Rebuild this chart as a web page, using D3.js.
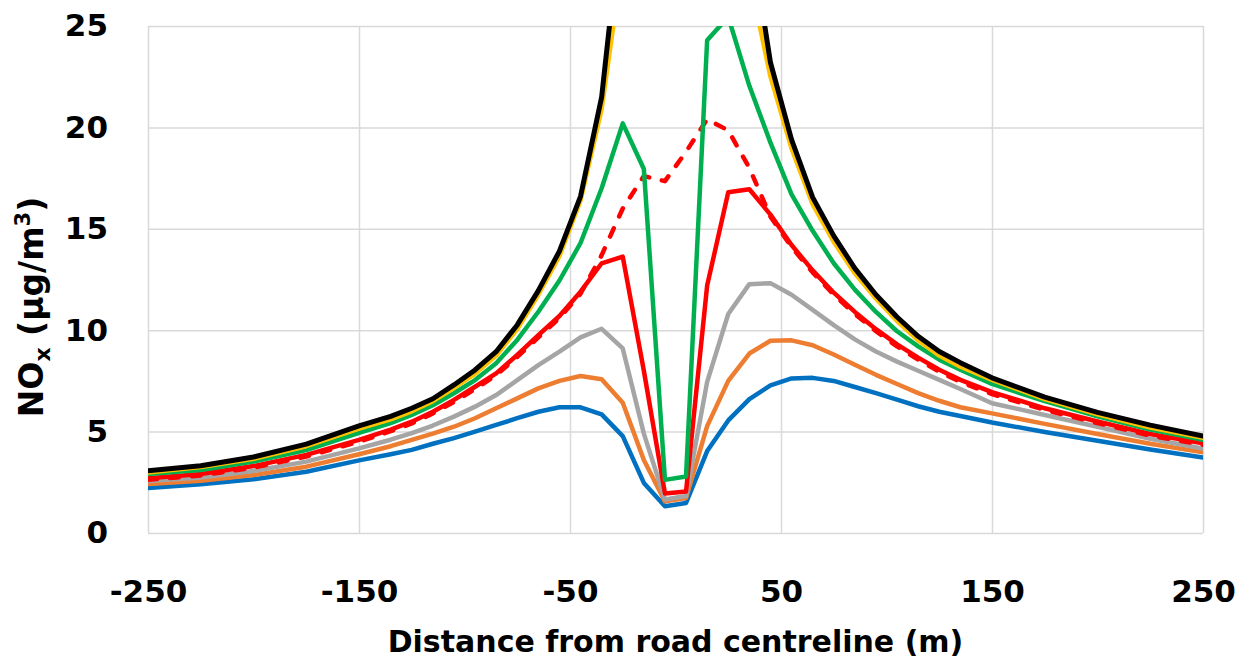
<!DOCTYPE html>
<html>
<head>
<meta charset="utf-8">
<script src="https://cdnjs.cloudflare.com/ajax/libs/d3/7.8.5/d3.min.js"></script>
<style>
body { margin: 0; background: #fff; }
text { font-family: "DejaVu Sans", sans-serif; font-weight: bold; fill: #000; }
</style>
</head>
<body>
<script>
// distance from road centreline (m)
let distance = [-250,-225,-200,-175,-150,-135,-125,-115,-105,-95,-85,-75,-65,-55,-45,-35,-25,-15,-5,
                5,15,25,35,45,55,65,75,85,95,105,115,125,135,150,175,200,225,250]

// NOx (ug/m3), one array per curve
let blue   = [2.22,2.40,2.65,3.02,3.58,3.88,4.10,4.40,4.68,5.00,5.33,5.66,5.98,6.20,6.20,5.85,4.78,2.47,1.32,
              1.48,4.04,5.55,6.60,7.28,7.62,7.65,7.50,7.20,6.90,6.58,6.25,5.98,5.77,5.45,4.98,4.55,4.12,3.72]
let orange = [2.42,2.58,2.86,3.27,3.88,4.28,4.59,4.90,5.24,5.66,6.15,6.64,7.13,7.50,7.74,7.58,6.42,3.60,1.56,
              1.73,5.27,7.50,8.85,9.48,9.50,9.26,8.80,8.30,7.80,7.35,6.90,6.52,6.20,5.90,5.38,4.88,4.40,3.98]
let gray   = [2.56,2.74,3.06,3.52,4.17,4.60,4.92,5.30,5.74,6.23,6.80,7.54,8.28,8.94,9.65,10.07,9.10,4.90,1.65,
              1.82,7.45,10.80,12.27,12.32,11.75,11.00,10.25,9.55,8.95,8.45,8.00,7.55,7.10,6.40,5.82,5.24,4.65,4.17]
let red    = [2.70,2.91,3.30,3.85,4.59,5.10,5.49,5.98,6.56,7.21,7.87,8.78,9.76,10.70,11.90,13.30,13.63,8.00,1.95,
              2.05,12.20,16.80,16.95,15.70,14.20,12.95,11.85,10.90,10.05,9.30,8.65,8.05,7.55,6.95,6.15,5.50,4.88,4.42]
let redDashed = [2.62,2.84,3.22,3.77,4.50,5.02,5.40,5.90,6.46,7.10,7.78,8.68,9.65,10.60,11.80,13.70,16.00,17.60,17.35,
              18.80,20.40,19.85,18.00,15.60,14.10,12.85,11.75,10.80,9.95,9.20,8.55,7.95,7.45,6.85,6.07,5.42,4.80,4.35]
let green  = [2.91,3.11,3.52,4.09,4.94,5.42,5.82,6.30,6.89,7.54,8.37,9.52,10.91,12.45,14.30,17.00,20.20,17.95,2.62,
              2.79,24.30,25.45,22.05,19.25,16.70,14.90,13.30,12.00,10.90,9.95,9.20,8.55,8.05,7.35,6.50,5.75,5.10,4.60]
let yellow = [2.98,3.25,3.66,4.28,5.15,5.60,6.00,6.50,7.15,7.85,8.75,10.05,11.75,13.65,16.40,20.90,28.30,38.00,48.00,
              48.00,38.00,31.00,27.40,22.50,18.95,16.20,14.35,12.80,11.55,10.45,9.50,8.75,8.20,7.55,6.60,5.85,5.20,4.70]
let black  = [3.07,3.32,3.75,4.38,5.28,5.75,6.15,6.62,7.30,8.04,8.94,10.26,11.95,13.90,16.60,21.50,31.00,42.00,55.00,
              55.00,44.00,35.00,29.90,23.20,19.40,16.55,14.65,13.05,11.75,10.65,9.70,8.95,8.40,7.65,6.70,5.95,5.32,4.78]

let xTicks = [-250,-150,-50,50,150,250]
let yTicks = [0,5,10,15,20,25]

let width = 1243
let height = 665
let plotLeft = 148, plotRight = 1203, plotTop = 26, plotBottom = 533

const svg = d3.select('body').append('svg').attr('width', width).attr('height', height)

let xScale = d3.scaleLinear().domain([-250, 250]).range([plotLeft, plotRight])
let yScale = d3.scaleLinear().domain([0, 25]).range([plotBottom, plotTop])

// gridlines + tick labels
let xAxis = svg.append('g')
  .attr('transform', `translate(0,${plotBottom})`)
  .call(d3.axisBottom(xScale).tickValues(xTicks).tickSize(-(plotBottom - plotTop)).tickPadding(47).tickFormat(d3.format('d')))
let yAxis = svg.append('g')
  .attr('transform', `translate(${plotLeft},0)`)
  .call(d3.axisLeft(yScale).tickValues(yTicks).tickSize(-(plotRight - plotLeft)).tickPadding(40))

svg.selectAll('.domain').remove()
svg.selectAll('.tick line').attr('stroke', '#d9d9d9').attr('stroke-width', 1.5)
svg.selectAll('.tick text').style('font-size', '31px').attr('fill', '#000')
xAxis.selectAll('.tick text').text(d => d < 0 ? '-' + Math.abs(d) : d)

svg.append('clipPath').attr('id', 'plot')
  .append('rect').attr('x', plotLeft).attr('y', plotTop).attr('width', plotRight - plotLeft).attr('height', plotBottom - plotTop)

let line = d3.line()
  .x((d, i) => xScale(distance[i]))
  .y(d => yScale(d))

let series = [
  {values: blue, color: '#0070C0'},
  {values: orange, color: '#ED7D31'},
  {values: gray, color: '#A5A5A5'},
  {values: red, color: '#FF0000'},
  {values: redDashed, color: '#FF0000', dash: '9,13'},
  {values: green, color: '#00B050'},
  {values: yellow, color: '#FFC000'},
  {values: black, color: '#000000'}
]

svg.append('g').attr('clip-path', 'url(#plot)')
  .selectAll('path')
  .data(series)
  .enter()
  .append('path')
  .attr('d', s => line(s.values))
  .attr('fill', 'none')
  .attr('stroke', s => s.color)
  .attr('stroke-width', s => s.color === '#000000' ? 5 : 4.5)
  .attr('stroke-linejoin', 'round')
  .attr('stroke-linecap', 'round')
  .attr('stroke-dasharray', s => s.dash || null)

// axis titles
svg.append('text')
  .attr('x', (plotLeft + plotRight) / 2)
  .attr('y', 652)
  .attr('text-anchor', 'middle')
  .style('font-size', '30px')
  .text('Distance from road centreline (m)')

let yTitle = svg.append('text')
  .attr('transform', 'translate(43,307) rotate(-90)')
  .attr('text-anchor', 'middle')
  .style('font-size', '33px')
yTitle.append('tspan').text('NO')
yTitle.append('tspan').text('x').style('font-size', '22px').attr('dy', 7)
yTitle.append('tspan').text(' (µg/m').attr('dy', -7)
yTitle.append('tspan').text('3').style('font-size', '21px').attr('dy', -13)
yTitle.append('tspan').text(')').attr('dy', 13)
</script>
</body>
</html>
